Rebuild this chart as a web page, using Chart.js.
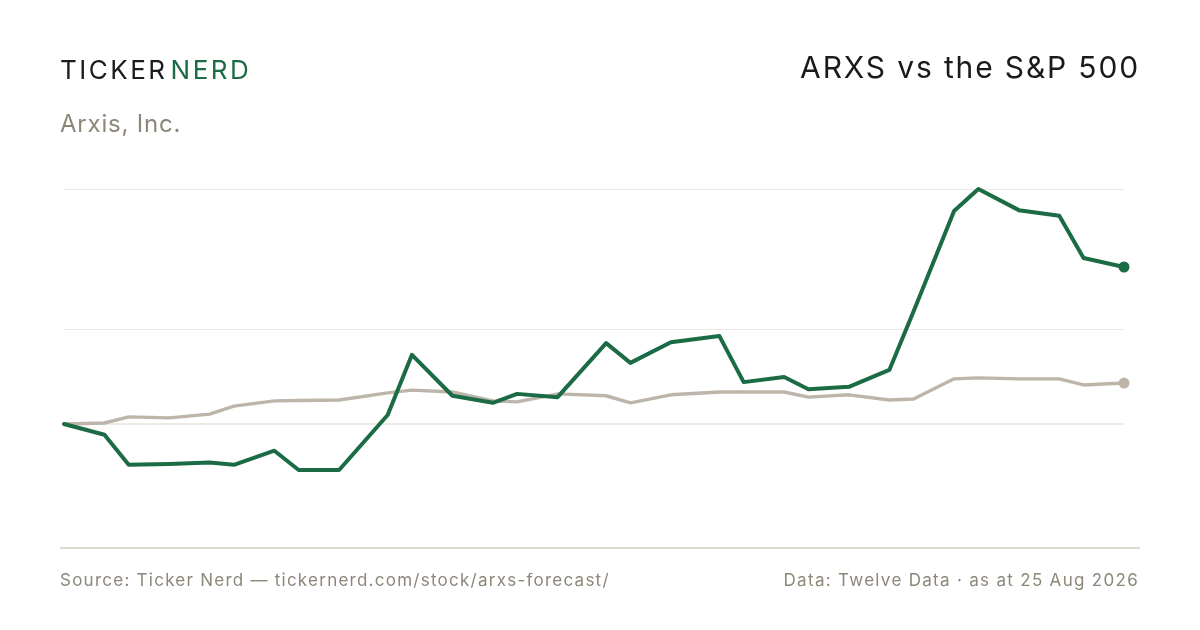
<!DOCTYPE html>
<html>
<head>
<meta charset="utf-8">
<script src="https://cdn.jsdelivr.net/npm/chart.js@4.4.1/dist/chart.umd.min.js"></script>
<style>
  html, body { margin: 0; padding: 0; background: #ffffff; }
  #wrap { position: relative; width: 1200px; height: 630px; overflow: hidden; background: #fff; font-family: Inter, "Noto Sans", sans-serif; }
  #c { position: absolute; left: 0; top: 0; }
  .t { position: absolute; white-space: nowrap; line-height: 1; }
  #brand { left: 60px; top: 57px; font-size: 26px; letter-spacing: 2.5px; color: #1c1c1c; }
  #brand .g { color: #1b6b45; margin-left: 3px; }
  #company { left: 60px; top: 112px; font-size: 24px; letter-spacing: 0.8px; color: #8c8779; }
  #title { right: 60px; top: 52px; font-size: 30px; letter-spacing: 1.85px; color: #1a1a1a; }
  #src { left: 60px; top: 572px; font-size: 17px; letter-spacing: 1.25px; color: #8c8779; }
  #data { right: 61px; top: 572px; font-size: 17px; letter-spacing: 1.3px; color: #8c8779; }
</style>
</head>
<body>
<div id="wrap">
  <canvas id="c" width="1200" height="630"></canvas>
  <div class="t" id="brand">TICKER<span class="g">NERD</span></div>
  <div class="t" id="company">Arxis, Inc.</div>
  <div class="t" id="title">ARXS vs the S&amp;P 500</div>
  <div class="t" id="src">Source: Ticker Nerd — tickernerd.com/stock/arxs-forecast/</div>
  <div class="t" id="data">Data: Twelve Data · as at 25 Aug 2026</div>
</div>
<script>
// Days since start of window (last point = 25 Aug 2026)
const days = [0, 5, 8, 13, 18, 21, 26, 29, 34, 40, 43, 48, 53, 56, 61, 67, 70, 75, 81, 84, 89, 92, 97, 102, 105, 110, 113, 118, 123, 126, 131];
// % change since start
const arxs = [0, -2.3, -8.7, -8.5, -8.2, -8.7, -5.7, -9.8, -9.8, 1.9, 14.7, 6.0, 4.5, 6.4, 5.7, 17.2, 13.0, 17.4, 18.7, 8.9, 10.0, 7.4, 7.9, 11.5, 24.0, 45.3, 50.0, 45.5, 44.3, 35.3, 33.4];
const spx  = [0, 0.2, 1.5, 1.3, 2.1, 3.8, 4.9, 5.0, 5.1, 6.6, 7.2, 6.8, 4.9, 4.7, 6.4, 6.0, 4.5, 6.2, 6.8, 6.8, 6.8, 5.7, 6.2, 5.1, 5.3, 9.6, 9.8, 9.6, 9.6, 8.3, 8.7];
const gridValues = [20.2, 50];
const baseValue = 0;
const yMin = -26.4, yMax = 50;

const toPts = arr => arr.map((v, i) => ({ x: days[i], y: v }));
const lastOnly = (r) => (ctx) => ctx.dataIndex === days.length - 1 ? r : 0;

const guides = {
  id: 'guides',
  beforeDatasetsDraw(chart) {
    const { ctx, chartArea } = chart;
    const y = chart.scales.y;
    ctx.save();
    ctx.lineWidth = 1.2;
    ctx.strokeStyle = '#ebe8e1';
    gridValues.forEach(v => {
      const py = Math.round(y.getPixelForValue(v)) + 0.5;
      ctx.beginPath(); ctx.moveTo(chartArea.left, py); ctx.lineTo(chartArea.right, py); ctx.stroke();
    });
    ctx.strokeStyle = '#e9e5da';
    ctx.lineWidth = 1.5;
    const pb = y.getPixelForValue(baseValue);
    ctx.beginPath(); ctx.moveTo(chartArea.left, pb); ctx.lineTo(chartArea.right, pb); ctx.stroke();
    ctx.strokeStyle = '#dedace';
    ctx.lineWidth = 2;
    const bb = chartArea.bottom;
    ctx.beginPath(); ctx.moveTo(60, bb); ctx.lineTo(1140, bb); ctx.stroke();
    ctx.restore();
  }
};

new Chart(document.getElementById('c'), {
  type: 'line',
  data: {
    datasets: [
      {
        label: 'ARXS',
        data: toPts(arxs),
        borderColor: '#1b6b45',
        backgroundColor: '#1b6b45',
        borderWidth: 4,
        borderJoinStyle: 'round',
        borderCapStyle: 'round',
        tension: 0,
        pointRadius: lastOnly(5.5),
        pointHoverRadius: 0,
        pointBorderWidth: 0,
        clip: false
      },
      {
        label: 'S&P 500',
        data: toPts(spx),
        borderColor: '#bdb5aa',
        backgroundColor: '#bdb5aa',
        borderWidth: 3.4,
        borderJoinStyle: 'round',
        borderCapStyle: 'round',
        tension: 0,
        pointRadius: lastOnly(5.5),
        pointHoverRadius: 0,
        pointBorderWidth: 0,
        clip: false
      }
    ]
  },
  options: {
    responsive: false,
    animation: false,
    events: [],
    layout: { padding: { left: 64, right: 76, top: 189, bottom: 82 } },
    plugins: { legend: { display: false }, tooltip: { enabled: false } },
    scales: {
      x: { type: 'linear', min: days[0], max: days[days.length - 1], display: false },
      y: { type: 'linear', min: yMin, max: yMax, display: false }
    }
  },
  plugins: [guides]
});
</script>
</body>
</html>
